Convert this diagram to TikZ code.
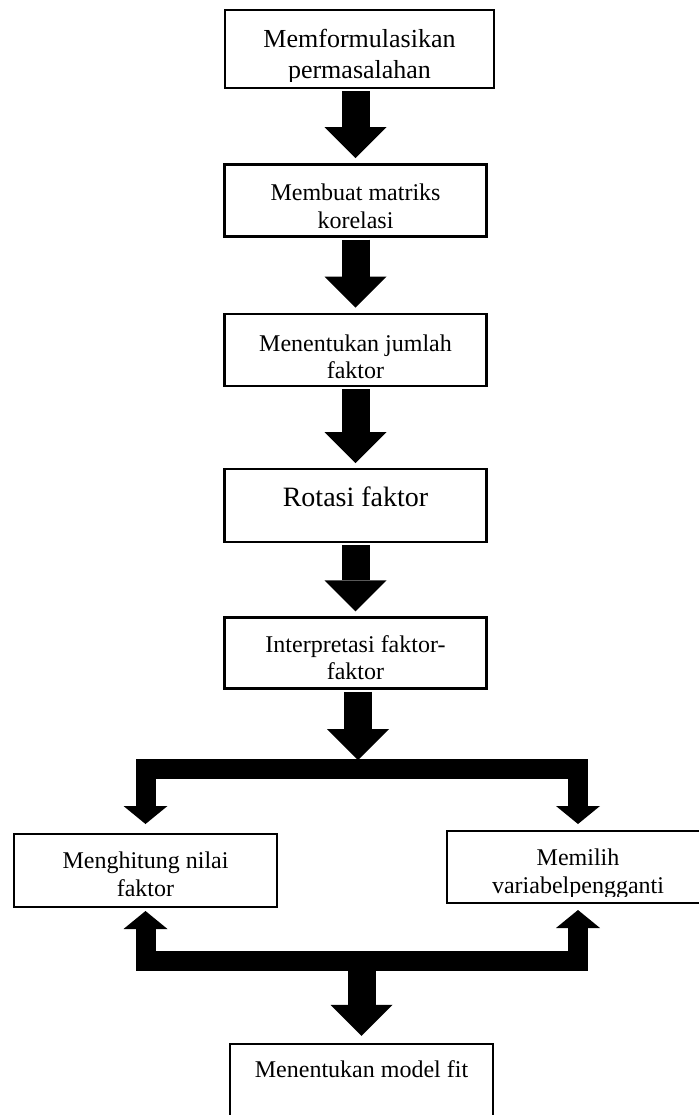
\documentclass[tikz,border=0pt]{standalone}
\usepackage{fontspec}
\setmainfont{Liberation Serif}
\usepackage{tikz}
\usetikzlibrary{positioning,arrows.meta}
\tikzset{
  box/.style={draw=black,line width=1.2pt,inner sep=0pt},
  boxtext/.style={align=center,inner sep=0pt,font=\fontsize{12}{13.8}\selectfont},
  fat/.style={line width=14pt,-{Triangle[width=31pt,length=15.5pt,line width=0pt]},shorten <=1pt,shorten >=2.5pt},
  branch/.style={line width=10pt,-{Triangle[width=22pt,length=9pt,line width=0pt]}}
}
\newcommand{\flowtext}[4]{%
  \begin{scope}
    \clip ([yshift=4pt]#1.south west) rectangle (#1.north east);
    \node[boxtext,#3,below=#2 of #1.north] (#1-txt) {#4};
  \end{scope}}

\begin{document}
\begin{tikzpicture}[x=0.5pt,y=-0.5pt]
      \useasboundingbox (0,0) rectangle (699,1115);
      \node[box,minimum width=134.3pt,minimum height=39pt] (rumus) at (359.5,49) {};
      \node[box,minimum width=131pt,minimum height=36pt,below=37pt of rumus,xshift=-2pt] (matriks) {};
      \node[box,minimum width=131pt,minimum height=36pt,below=37.5pt of matriks] (jumlah) {};
      \node[box,minimum width=131pt,minimum height=36.5pt,below=40.5pt of jumlah] (rotasi) {};
      \node[box,minimum width=131pt,minimum height=35.5pt,below=36.5pt of rotasi] (interp) {};
      \node[box,minimum width=131.3pt,minimum height=36.3pt] (hitung) at (145.5,870.5) {};
      \node[box,minimum width=131pt,minimum height=35.8pt] (pilih) at (578,867) {};
      \node[box,minimum width=131.3pt,minimum height=43pt] (model) at (361.5,1087) {};
      \coordinate (split) at (358,769);
      \coordinate (join) at (361.5,960.5);

      \flowtext{rumus}{10.1pt}{font=\fontsize{13}{15.5}\selectfont}{Memformulasikan\\permasalahan}
      \flowtext{matriks}{10.3pt}{}{Membuat matriks\\korelasi}
      \flowtext{jumlah}{10.8pt}{}{Menentukan jumlah\\faktor}
      \flowtext{rotasi}{9.4pt}{font=\fontsize{14}{16}\selectfont}{Rotasi faktor}
      \flowtext{interp}{9.3pt}{}{Interpretasi faktor-\\faktor}
      \flowtext{hitung}{9.3pt}{}{Menghitung nilai\\faktor}
      \flowtext{pilih}{9.3pt}{}{Memilih\\variabelpengganti}
      \flowtext{model}{8.8pt}{}{Menentukan model fit}

      \foreach \a/\b in {rumus/matriks,matriks/jumlah,jumlah/rotasi,rotasi/interp}
        \draw[fat] (\a.south -| \b) -- (\b);
      \draw[fat,shorten >=0pt] (interp.south -| split) -- ([yshift=4.5pt]split);
      \draw[branch,shorten >=4.5pt] (split) -| (hitung);
      \draw[branch,shorten >=3pt] (split) -| (pilih);
      \draw[branch,shorten >=1.5pt] (join) -| (hitung);
      \draw[branch,shorten >=3pt] (join) -| (pilih);
      \draw[fat,shorten <=0pt,shorten >=3.5pt] (join) -- (model);
    \end{tikzpicture}
\end{document}
